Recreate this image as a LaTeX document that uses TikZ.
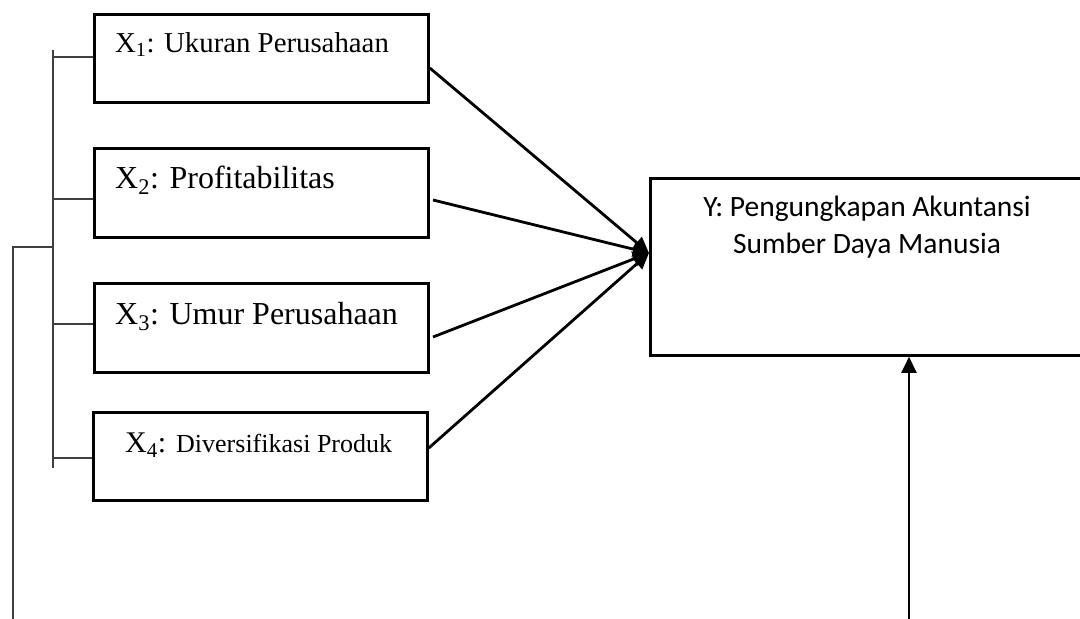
\documentclass[tikz,border=0pt]{standalone}
\usepackage{fontspec}
\setmainfont{Liberation Serif}
\newfontfamily\calib{Carlito}
\usetikzlibrary{arrows.meta}
\begin{document}
\begin{tikzpicture}[x=1pt,y=-1pt,
  box/.style={draw=black,line width=2.8pt,rectangle,inner sep=0pt,anchor=north west},
  lbl/.style={anchor=base west,inner sep=0pt},
  brk/.style={draw=black!75,line width=1.5pt},
  arr/.style={draw=black,line width=2.8pt,-{Triangle[length=16pt,width=15pt]}},
  varr/.style={draw=black,line width=2.4pt,-{Triangle[length=16pt,width=15pt]}}]
\useasboundingbox (0,0) rectangle (1080,619);
% boxes
\node[box,minimum width=334pt,minimum height=88pt] (x1) at (93,13) {};
\node[box,minimum width=334pt,minimum height=89pt] (x2) at (93,147) {};
\node[box,minimum width=334pt,minimum height=89pt] (x3) at (93,282) {};
\node[box,minimum width=334pt,minimum height=88pt] (x4) at (92,411) {};
\node[box,minimum width=436pt,minimum height=177pt] (yb) at (649,177) {};
% labels
\node[lbl] (t1) at (115,52) {\fontsize{28.8}{30}\selectfont X\textsubscript{1}: Ukuran Perusahaan};
\node[lbl] (t2) at (115,188) {\fontsize{32}{33}\selectfont X\textsubscript{2}: Profitabilitas};
\node[lbl] (t3) at (115,324) {\fontsize{32}{33}\selectfont X\textsubscript{3}: Umur Perusahaan};
\node[lbl] (t4) at (125,452) {\fontsize{30}{31}\selectfont X\textsubscript{4}: \fontsize{26}{27}\selectfont Diversifikasi Produk};
\node[anchor=base,inner sep=0pt] (ty1) at (867,216) {\calib\fontsize{29.5}{31}\selectfont Y: Pengungkapan Akuntansi};
\node[anchor=base,inner sep=0pt] (ty2) at (867,253) {\calib\fontsize{29.5}{31}\selectfont Sumber Daya Manusia};
% coordinates
\coordinate (yin) at (649,253);
\coordinate (b1) at (53,50);
\coordinate (b2) at (53,468);
\coordinate (o1) at (13,247);
\coordinate (o2) at (13,619);
\coordinate (vb) at (909,619);
% bracket
\draw[brk] (b1) -- (b2);
\draw[brk] (53,57) -- (x1.west |- 0,57);
\draw[brk] (53,199) -- (x2.west |- 0,199);
\draw[brk] (53,324) -- (x3.west |- 0,324);
\draw[brk] (53,458) -- (x4.west |- 0,458);
\draw[brk] (o2) -- (o1) -- (o1 -| b1);
% arrows
\draw[arr] (x1.east |- 0,68) -- (yin);
\draw[arr] (433,200) -- (yin);
\draw[arr] (433,337) -- (yin);
\draw[arr] (x4.east |- 0,448) -- (yin);
\draw[varr] (vb) -- (yb.south -| vb);
\end{tikzpicture}
\end{document}
